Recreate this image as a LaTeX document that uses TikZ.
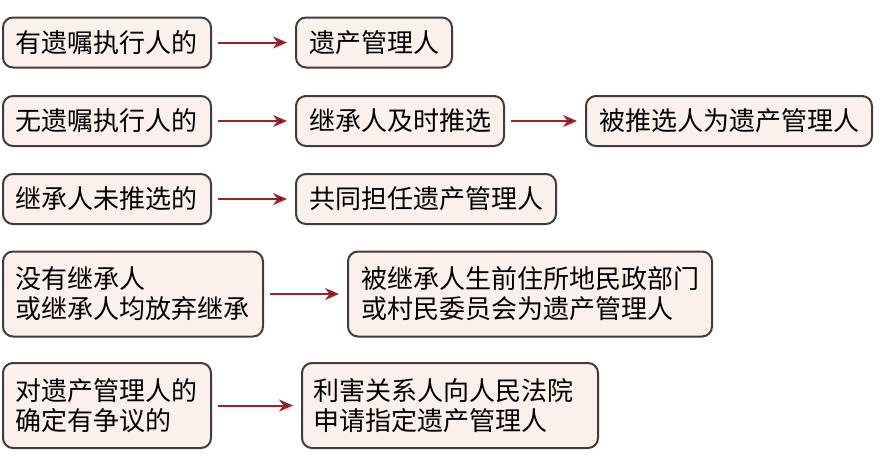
\documentclass[tikz,border=0pt]{standalone}
\usepackage{fontspec}
\setmainfont{Noto Sans CJK SC}
\usetikzlibrary{positioning,arrows.meta}

\definecolor{boxfill}{HTML}{FBF1EA}
\definecolor{boxline}{HTML}{3D3D3D}
\definecolor{arrowred}{HTML}{9B2328}

\begin{document}
\begin{tikzpicture}[x=1pt,y=-1pt,
    box/.style={draw=boxline,fill=boxfill,line width=2pt,rounded corners=10pt,
        inner xsep=13pt,minimum height=50pt,align=left,
        font=\fontsize{26}{30}\selectfont},
    tall/.style={minimum height=85pt},
    arr/.style={draw=arrowred,line width=2pt,
        -{Stealth[length=14pt,width=12pt]},shorten <=6pt,shorten >=8pt}]
    \useasboundingbox (0,0) rectangle (879,464);
    \node (A1) [box,anchor=west] at (2,42.5) {有遗嘱执行人的};
    \node (B1) [box,right=83pt of A1] {遗产管理人};
    \node (A2) [box,anchor=west] at (2,121) {无遗嘱执行人的};
    \node (B2) [box,right=83pt of A2] {继承人及时推选};
    \node (C2) [box,right=80pt of B2] {被推选人为遗产管理人};
    \node (A3) [box,anchor=west] at (2,199) {继承人未推选的};
    \node (B3) [box,right=83pt of A3] {共同担任遗产管理人};
    \node (A4) [box,tall,anchor=west] at (2,294) {没有继承人\\或继承人均放弃继承};
    \node (B4) [box,tall,right=83pt of A4] {被继承人生前住所地民政部门\\或村民委员会为遗产管理人};
    \node (A5) [box,tall,anchor=west] at (2,405.5) {对遗产管理人的\\确定有争议的};
    \node (B5) [box,tall,right=89pt of A5,inner xsep=11pt,text width=274pt] {利害关系人向人民法院\\申请指定遗产管理人};
    \draw[arr]
        (A1) edge (B1)
        (A2) edge (B2)
        (B2) edge (C2)
        (A3) edge (B3)
        (A4) edge (B4)
        (A5) edge (B5);
\end{tikzpicture}
\end{document}
